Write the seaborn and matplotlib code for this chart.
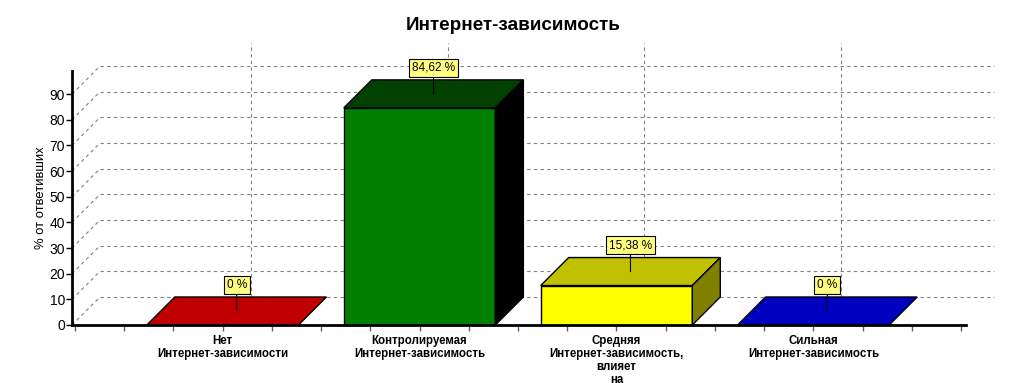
import matplotlib
matplotlib.use("Agg")
import matplotlib.pyplot as plt
import seaborn as sns
import pandas as pd
from matplotlib.patches import Polygon
from matplotlib.ticker import MultipleLocator

# data
categories = [
    "Нет\nИнтернет-зависимости",
    "Контролируемая\nИнтернет-зависимость",
    "Средняя\nИнтернет-зависимость,\nвлияет\nна",
    "Сильная\nИнтернет-зависимость",
]
values = [0, 84.62, 15.38, 0]
y_ticks = list(range(0, 100, 10))

front_colors = ["#FF0000", "#008000", "#FFFF00", "#0000FF"]
top_colors = ["#C00000", "#004000", "#C0C000", "#0000C0"]
side_colors = ["#800000", "#000000", "#808000", "#000080"]

W, H = 1025, 383
XMIN, XMAX = -0.765, 3.775
YMAX = 99
DEPTH_PX = 28

sns.set_style("white")
plt.rcParams["font.family"] = ["Liberation Sans", "DejaVu Sans"]
for key in ["text.color", "axes.labelcolor", "xtick.color", "ytick.color"]:
    plt.rcParams[key] = "black"

fig = plt.figure(figsize=(W / 100, H / 100), dpi=100)
ax = fig.add_axes([72 / W, 58 / H, 894 / W, 254 / H])
ax.set_xlim(XMIN, XMAX)
ax.set_ylim(0, YMAX)

# depth of the fake 3d in data units
dx = DEPTH_PX * (XMAX - XMIN) / 894
dy = DEPTH_PX * YMAX / 254

grid_kw = dict(color="#808080", lw=0.8, dashes=(3, 3), clip_on=False, zorder=0)
for v in y_ticks:
    ax.plot([XMIN + dx, XMAX + dx], [v + dy, v + dy], **grid_kw)
    ax.plot([XMIN, XMIN + dx], [v, v + dy], **grid_kw)
for i in range(len(categories)):
    ax.plot([i + dx, i + dx], [dy, YMAX + dy], **grid_kw)

df = pd.DataFrame({"cat": categories, "val": values})
sns.barplot(data=df, x="cat", y="val", hue="cat", palette=front_colors,
            saturation=1, width=0.77, edgecolor="black", linewidth=1,
            legend=False, ax=ax, zorder=3)
ax.set_xlim(XMIN, XMAX)
ax.set_ylim(0, YMAX)

for i, p in enumerate(list(ax.patches)):
    x0, w, h = p.get_x(), p.get_width(), p.get_height()
    top = Polygon([(x0, h), (x0 + w, h), (x0 + w + dx, h + dy), (x0 + dx, h + dy)],
                  closed=True, fc=top_colors[i], ec="black", lw=1, zorder=3,
                  clip_on=False)
    ax.add_patch(top)
    if h > 0:
        side = Polygon([(x0 + w, 0), (x0 + w + dx, dy), (x0 + w + dx, h + dy), (x0 + w, h)],
                       closed=True, fc=side_colors[i], ec="black", lw=1, zorder=3,
                       clip_on=False)
        ax.add_patch(side)
    label = f"{values[i]:g}".replace(".", ",") + " %"
    ax.annotate(label, xy=(x0 + w / 2 + dx / 2, h + dy / 2), xytext=(0, 14.5),
                textcoords="offset points", ha="center", va="bottom", fontsize=8.5,
                bbox=dict(boxstyle="square,pad=0.25", fc="#FFFF80", ec="black", lw=0.8),
                arrowprops=dict(arrowstyle="-", color="black", lw=0.8,
                                shrinkA=0, shrinkB=0),
                zorder=5, annotation_clip=False)

sns.despine(ax=ax)
for s in ["left", "bottom"]:
    ax.spines[s].set_linewidth(2)
    ax.spines[s].set_color("black")
    ax.spines[s].set_zorder(4)

ax.set_yticks(y_ticks)
ax.tick_params(axis="y", length=4, width=1, color="black", labelsize=10, pad=1,
               left=True)
ax.xaxis.set_minor_locator(MultipleLocator(0.25))
ax.tick_params(axis="x", which="both", length=4, width=1, color="#606060",
               bottom=True, pad=3)
ax.set_xticks(range(len(categories)))
ax.set_xticklabels(categories, fontsize=8.3, fontweight="bold", linespacing=1.12)
ax.set_xlabel("")
ax.set_ylabel("% от ответивших", fontsize=9.4, labelpad=2)

fig.text(513 / W, 1 - 25 / H, "Интернет-зависимость", ha="center", va="center",
         fontsize=13.6, fontweight="bold")

fig.savefig("out.png", dpi=100)
